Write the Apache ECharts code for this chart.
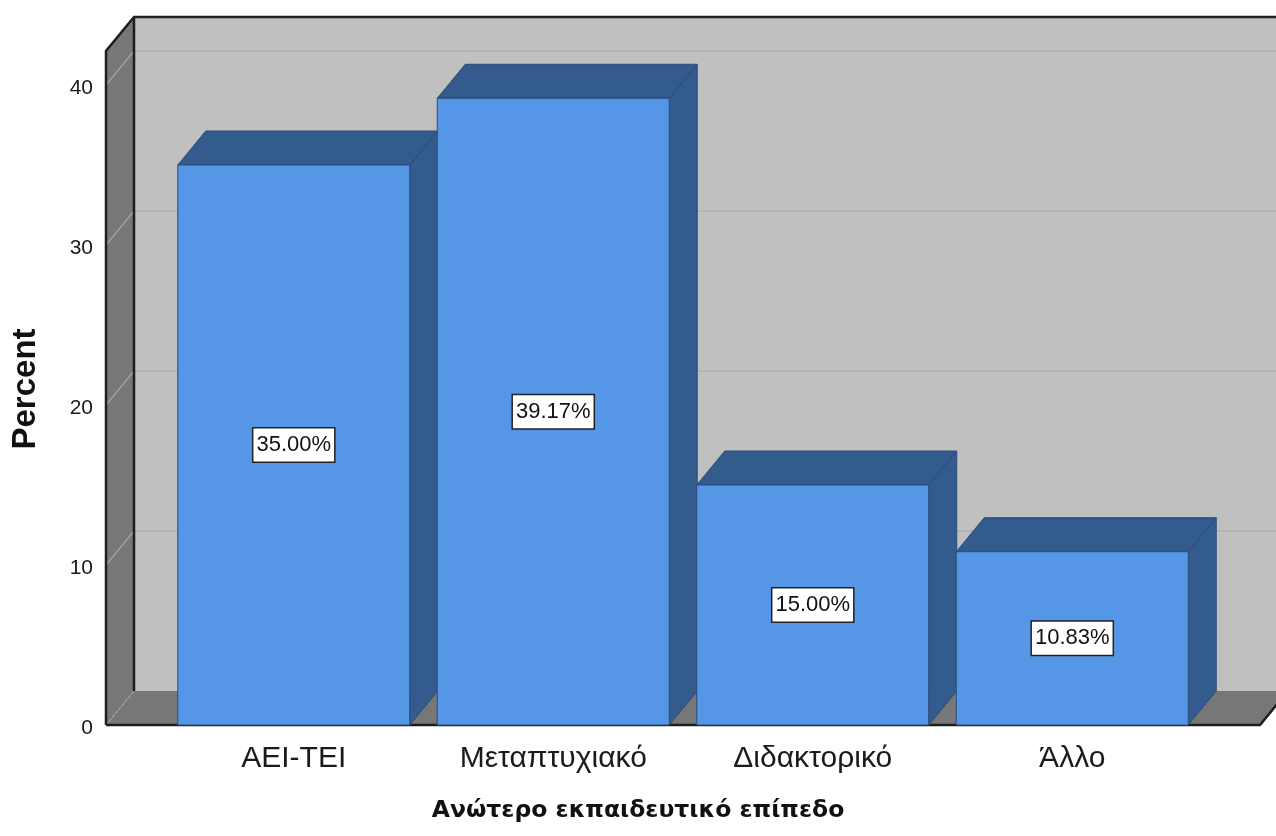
<!DOCTYPE html>
<html>
<head>
<meta charset="utf-8">
<script src="https://cdn.jsdelivr.net/npm/echarts@6/dist/echarts.min.js"></script>
<style>
  html, body { margin: 0; padding: 0; background: #ffffff; }
  #chart { width: 1276px; height: 836px; }
</style>
</head>
<body>
<div id="chart"></div>
<script>
// Highest education level, percent of respondents
const categories = ['AEI-TEI', 'Μεταπτυχιακό', 'Διδακτορικό', 'Άλλο'];
const percents = [35.00, 39.17, 15.00, 10.83];
const yTicks = [0, 10, 20, 30, 40];

// 3D look: depth offset of the back plane, in pixels
const DX = 28;
const DY = 34;
const BAR_FRACTION = 0.894;   // bar width as share of the category band
const SIDE_MARGIN = 0.2235;   // floor overhang beyond the outer bands, in bands
const WALL_TOP = 42.125;      // value where the walls end

const FONT = '"Liberation Sans", Arial, sans-serif';

function renderFrame(params, api) {
  const bw = api.size([1, 0])[0];
  const first = api.coord([0, 0]);
  const last = api.coord([categories.length - 1, 0]);
  const xL = first[0] - bw / 2 - SIDE_MARGIN * bw;
  const xR = last[0] + bw / 2 + SIDE_MARGIN * bw;
  const y0 = first[1];
  const yT = api.coord([0, WALL_TOP])[1];
  const children = [];

  // back wall
  children.push({ type: 'rect', shape: { x: xL + DX, y: yT - DY, width: xR - xL, height: y0 - yT },
    style: { fill: '#c0c0c0' } });
  // grid lines on the back wall
  yTicks.slice(1).forEach(v => {
    const y = api.coord([0, v])[1] - DY;
    children.push({ type: 'line', shape: { x1: xL + DX, y1: y, x2: xR + DX, y2: y },
      style: { stroke: '#b3b3b3', lineWidth: 2 } });
  });
  // left wall
  children.push({ type: 'polygon', shape: { points: [[xL, yT], [xL + DX, yT - DY], [xL + DX, y0 - DY], [xL, y0]] },
    style: { fill: '#777777' } });
  // floor
  children.push({ type: 'polygon', shape: { points: [[xL, y0], [xL + DX, y0 - DY], [xR + DX, y0 - DY], [xR, y0]] },
    style: { fill: '#777777' } });
  // grid lines on the left wall
  yTicks.forEach(v => {
    const y = api.coord([0, v])[1];
    children.push({ type: 'line', shape: { x1: xL, y1: y, x2: xL + DX, y2: y - DY },
      style: { stroke: '#a6a6a6', lineWidth: 1.2, lineDash: v === 0 ? [3, 2] : null } });
  });
  // dark edges
  children.push({ type: 'line', shape: { x1: xL + DX, y1: yT - DY, x2: xL + DX, y2: y0 - DY },
    style: { stroke: '#1e1e1e', lineWidth: 2.5 } });
  children.push({ type: 'polyline', shape: { points: [[xL, y0], [xL, yT], [xL + DX, yT - DY], [xR + DX, yT - DY]] },
    style: { stroke: '#1e1e1e', lineWidth: 2.5, fill: null } });
  children.push({ type: 'polyline', shape: { points: [[xL, y0], [xR, y0], [xR + DX, y0 - DY]] },
    style: { stroke: '#1e1e1e', lineWidth: 2.5, fill: null } });

  return { type: 'group', children };
}

function renderBar(params, api) {
  const idx = api.value(0);
  const val = api.value(1);
  const top = api.coord([idx, val]);
  const base = api.coord([idx, 0]);
  const w = api.size([1, 0])[0] * BAR_FRACTION;
  const x0 = top[0] - w / 2;
  const x1 = top[0] + w / 2;
  const yt = top[1];
  const yb = base[1];
  const edge = { stroke: '#2b4c78', lineWidth: 1 };
  return {
    type: 'group',
    children: [
      { type: 'polygon', shape: { points: [[x1, yt], [x1 + DX, yt - DY], [x1 + DX, yb - DY], [x1, yb]] },
        style: Object.assign({ fill: '#335b8d' }, edge) },
      { type: 'polygon', shape: { points: [[x0, yt], [x0 + DX, yt - DY], [x1 + DX, yt - DY], [x1, yt]] },
        style: Object.assign({ fill: '#335b8d' }, edge) },
      { type: 'rect', shape: { x: x0, y: yt, width: w, height: yb - yt },
        style: Object.assign({ fill: '#5596e6' }, edge) },
      { type: 'text', x: top[0], y: (yt + yb) / 2,
        style: {
          text: val.toFixed(2) + '%',
          align: 'center', verticalAlign: 'middle',
          fill: '#111111', font: '22px ' + FONT,
          backgroundColor: '#ffffff', borderColor: '#222222', borderWidth: 1.5,
          padding: [6, 3, 5, 3]
        } }
    ]
  };
}

const chart = echarts.init(document.getElementById('chart'), null, { renderer: 'canvas' });
chart.setOption({
  animation: false,
  backgroundColor: '#ffffff',
  grid: { left: 164, right: 74, top: 85, bottom: 111, containLabel: false, outerBoundsMode: 'none' },
  xAxis: {
    type: 'category',
    data: categories,
    axisLine: { show: false },
    axisTick: { show: false },
    splitLine: { show: false },
    axisLabel: { fontSize: 30, color: '#1a1a1a', fontFamily: FONT, margin: 19 },
    name: 'Ανώτερο εκπαιδευτικό επίπεδο',
    nameLocation: 'middle',
    nameGap: 74,
    nameMoveOverlap: false,
    nameTextStyle: { fontSize: 23.5, fontWeight: 'bold', color: '#111111',
      fontFamily: '"DejaVu Sans", Verdana, sans-serif', padding: [0, 90, 0, 0] }
  },
  yAxis: {
    type: 'value',
    min: 0, max: 40, interval: 10,
    axisLine: { show: false },
    axisTick: { show: false },
    splitLine: { show: false },
    axisLabel: {
      margin: 71,
      formatter: '{t|{value}}',
      rich: { t: { fontSize: 21, color: '#1a1a1a', fontFamily: FONT, padding: [6, 0, 0, 0] } }
    },
    name: 'Percent',
    nameLocation: 'middle',
    nameGap: 122,
    nameMoveOverlap: false,
    nameTextStyle: { fontSize: 33, fontWeight: 'bold', color: '#111111', fontFamily: FONT,
      padding: [0, 0, 0, 32] }
  },
  series: [
    {
      type: 'custom',
      silent: true,
      z: 1,
      renderItem: renderFrame,
      data: [[0, 0]],
      encode: { x: 0, y: 1 }
    },
    {
      type: 'custom',
      silent: true,
      z: 2,
      renderItem: renderBar,
      data: categories.map((c, i) => [i, percents[i]]),
      encode: { x: 0, y: 1 }
    }
  ]
});
</script>
</body>
</html>
